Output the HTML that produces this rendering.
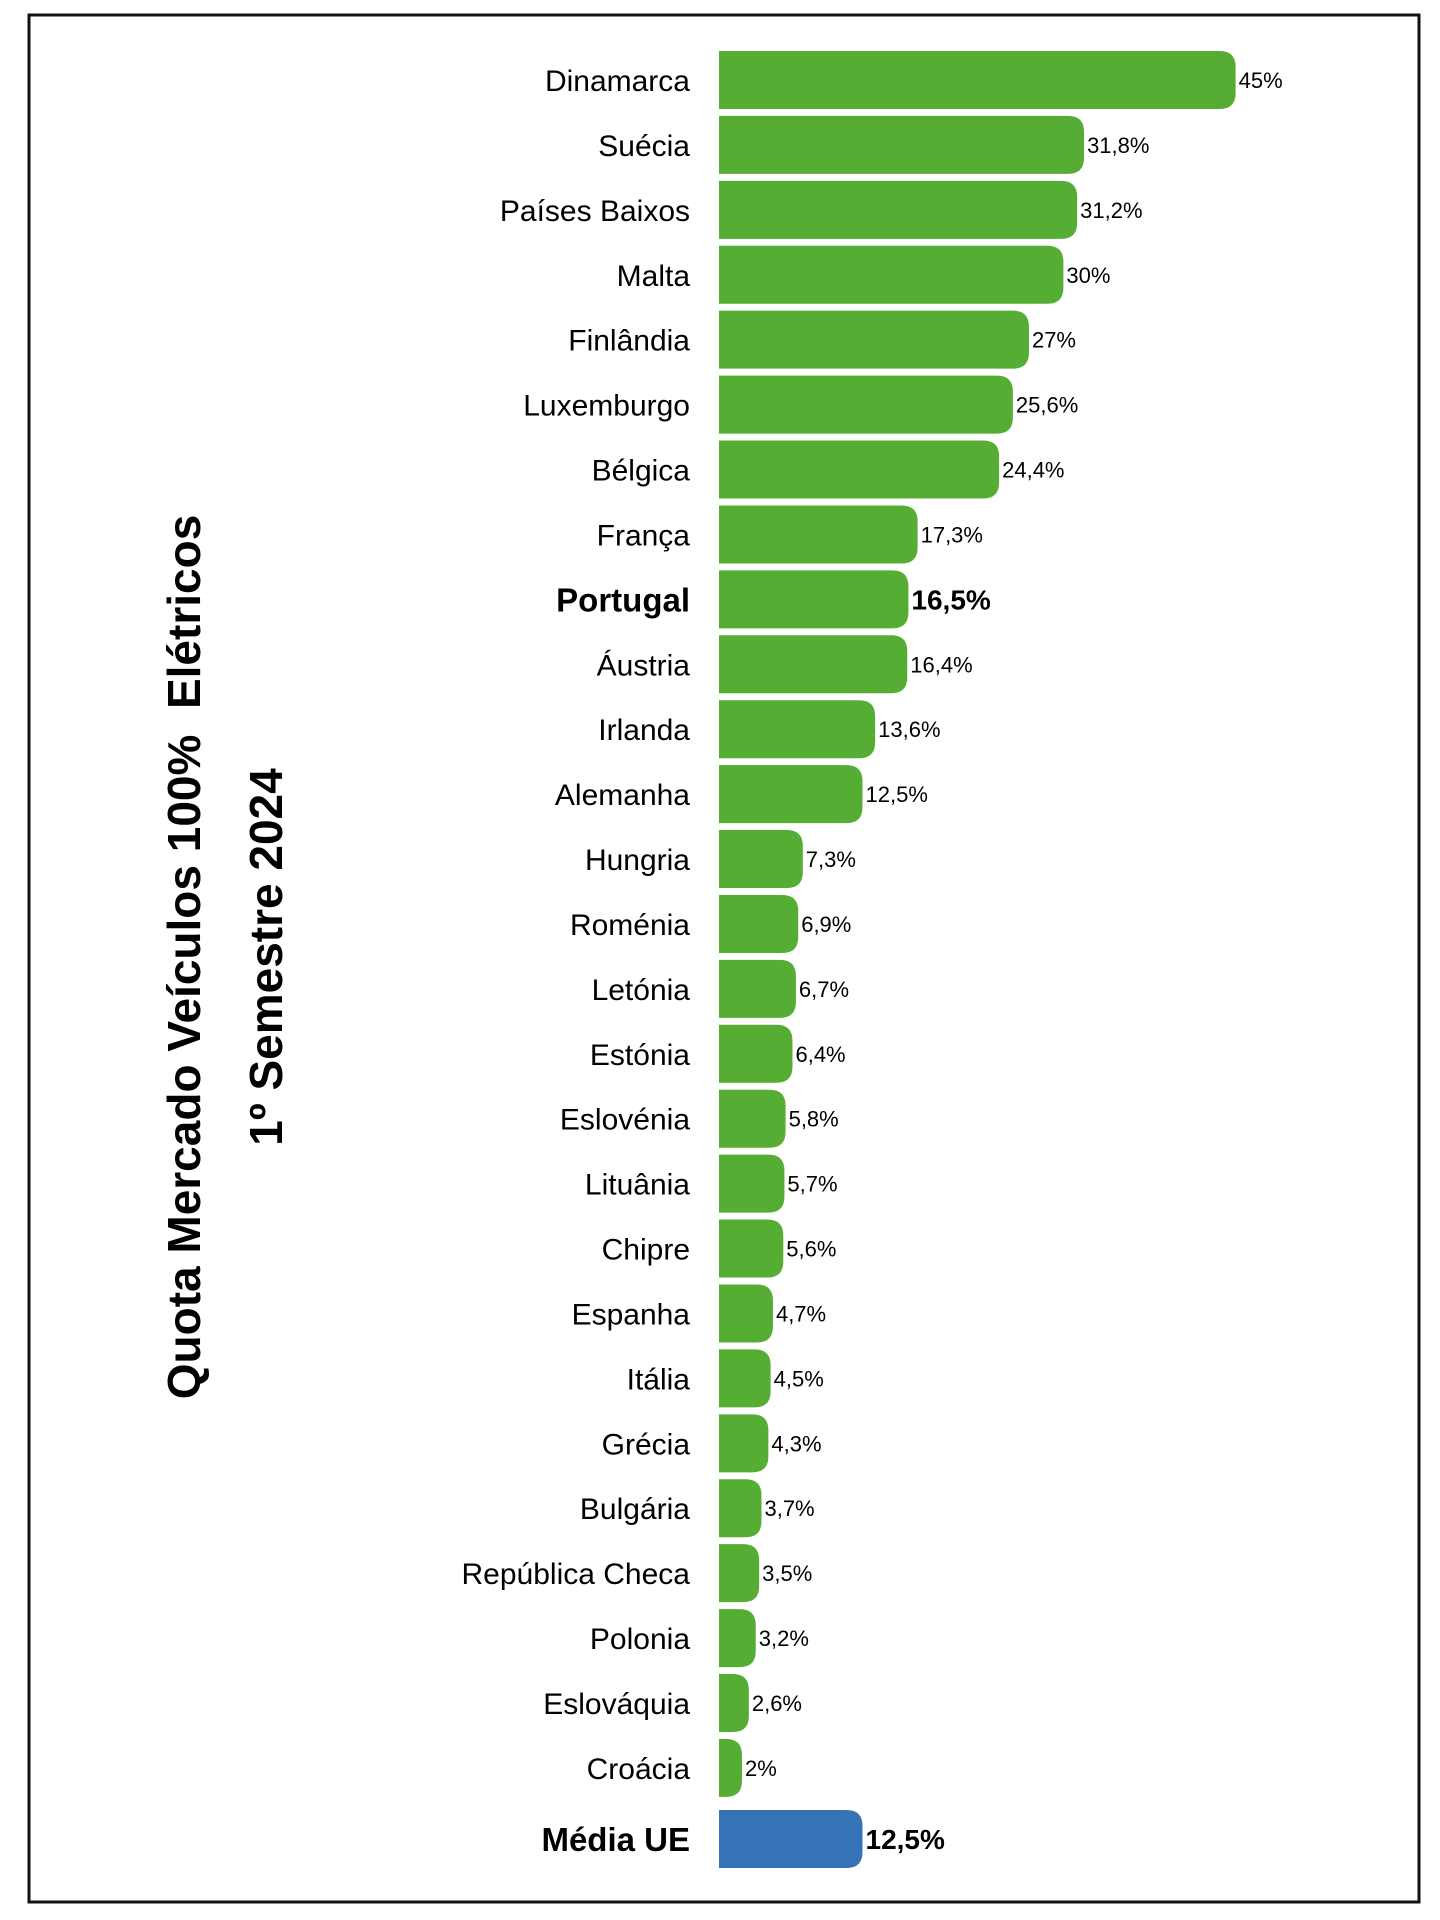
<!DOCTYPE html>
<html><head><meta charset="utf-8"><style>
html,body{margin:0;padding:0;background:#fff}
svg{display:block}
text{font-family:"Liberation Sans",Arial,sans-serif}
</style></head><body>
<svg id="chart" width="1440" height="1920" viewBox="0 0 1440 1920">
<rect x="29" y="15" width="1390" height="1887" fill="#fff" stroke="#111" stroke-width="3"/>
<g transform="translate(184,957) rotate(-90)">
<text x="0" y="16" text-anchor="middle" font-size="46" font-weight="bold" xml:space="preserve">Quota Mercado Veículos 100%  Elétricos</text>
<text x="0" y="98" text-anchor="middle" font-size="46" font-weight="bold">1º Semestre 2024</text>
</g>
<g id="bars"></g>
</svg>
<script>
const categories = ["Dinamarca","Suécia","Países Baixos","Malta","Finlândia","Luxemburgo","Bélgica","França","Portugal","Áustria","Irlanda","Alemanha","Hungria","Roménia","Letónia","Estónia","Eslovénia","Lituânia","Chipre","Espanha","Itália","Grécia","Bulgária","República Checa","Polonia","Eslováquia","Croácia","Média UE"];
const values = [45,31.8,31.2,30,27,25.6,24.4,17.3,16.5,16.4,13.6,12.5,7.3,6.9,6.7,6.4,5.8,5.7,5.6,4.7,4.5,4.3,3.7,3.5,3.2,2.6,2,12.5];
const boldCategories = ["Portugal","Média UE"];
const averageCategory = "Média UE";

const NS = "http://www.w3.org/2000/svg";
const x0 = 719, pxPerUnit = 11.48;
const xScale = v => x0 + v * pxPerUnit;
const yTop = i => (i === categories.length - 1) ? 1810 : 51 + i * 64.92;
const barH = 58;
const g = document.getElementById("bars");
const fmt = v => String(v).replace(".", ",") + "%";

categories.forEach((c, i) => {
  const v = values[i];
  const y = yTop(i);
  const xe = xScale(v);
  const w = xe - x0;
  const r = Math.min(16, w);
  const bold = boldCategories.includes(c);
  const p = document.createElementNS(NS, "path");
  p.setAttribute("d", `M${x0},${y} H${xe - r} Q${xe},${y} ${xe},${y + r} V${y + barH - r} Q${xe},${y + barH} ${xe - r},${y + barH} H${x0} Z`);
  p.setAttribute("fill", c === averageCategory ? "#3474b6" : "#55ae33");
  
  
  g.appendChild(p);

  const cy = y + barH / 2;
  const lab = document.createElementNS(NS, "text");
  lab.setAttribute("x", 690);
  lab.setAttribute("y", cy + (bold ? 12 : 11));
  lab.setAttribute("text-anchor", "end");
  lab.setAttribute("font-size", bold ? 33 : 30);
  if (bold) lab.setAttribute("font-weight", "bold");
  lab.textContent = c;
  
  
  g.appendChild(lab);

  const vl = document.createElementNS(NS, "text");
  vl.setAttribute("x", xe + 3);
  vl.setAttribute("y", cy + (bold ? 10 : 8));
  vl.setAttribute("font-size", bold ? 28 : 22);
  if (bold) vl.setAttribute("font-weight", "bold");
  vl.textContent = fmt(v);
  
  
  g.appendChild(vl);
});
</script>
</body></html>
